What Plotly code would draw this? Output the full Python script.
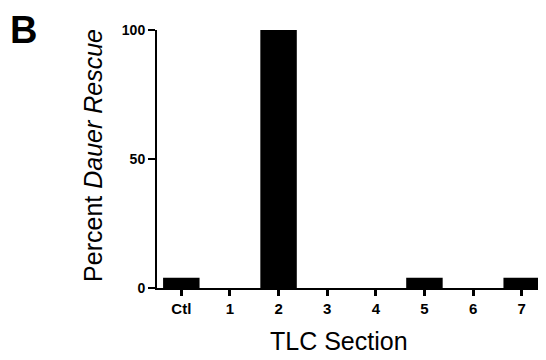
import plotly.graph_objects as go

categories = ["Ctl", "1", "2", "3", "4", "5", "6", "7"]
rescue_pct = [4, 0, 100, 0, 0, 4, 0, 4]
y_ticks = [0, 50, 100]

FONT = "Liberation Sans, Arial, sans-serif"

fig = go.Figure()
fig.add_trace(go.Bar(
    x=categories, y=rescue_pct,
    marker=dict(color="black", line=dict(width=0)),
    width=0.75,
))

# page body has an 8px default margin, so the figure is sized to fit inside it
fig.update_layout(
    width=538, height=352,
    margin=dict(l=149, r=0, t=22, b=72),
    paper_bgcolor="white", plot_bgcolor="white",
    showlegend=False,
    font=dict(family=FONT, color="black"),
    xaxis=dict(
        type="category", range=[-0.5, 7.5], automargin=False,
        showline=True, linecolor="black", linewidth=2,
        ticks="outside", ticklen=6, tickwidth=3, tickcolor="black",
        tickfont=dict(size=15, family=FONT),
        tickvals=categories,
        ticktext=["<b>" + c + "</b>" for c in categories],
        showgrid=False, zeroline=False,
    ),
    yaxis=dict(
        range=[0, 100], automargin=False,
        showline=True, linecolor="black", linewidth=2,
        ticks="outside", ticklen=7, tickwidth=2, tickcolor="black",
        tickvals=y_ticks,
        ticktext=["<b>" + str(v) + "</b>" for v in y_ticks],
        tickfont=dict(size=14),
        showgrid=False, zeroline=False,
    ),
)

fig.add_annotation(
    text="Percent <i>Dauer Rescue</i>", x=-0.1645, y=0.512,
    xref="paper", yref="paper", showarrow=False, textangle=-90,
    xanchor="center", yanchor="middle", font=dict(size=25, color="black"),
)
fig.add_annotation(
    text="TLC Section", x=0.468, y=-0.205,
    xref="paper", yref="paper", showarrow=False,
    xanchor="center", yanchor="middle", font=dict(size=25, color="black"),
)
fig.add_annotation(
    text="<b>B</b>", x=-0.342, y=1.0,
    xref="paper", yref="paper", showarrow=False,
    xanchor="center", yanchor="middle", height=36, valign="middle",
    font=dict(size=38, color="black"),
)

fig.write_html("out.html")
